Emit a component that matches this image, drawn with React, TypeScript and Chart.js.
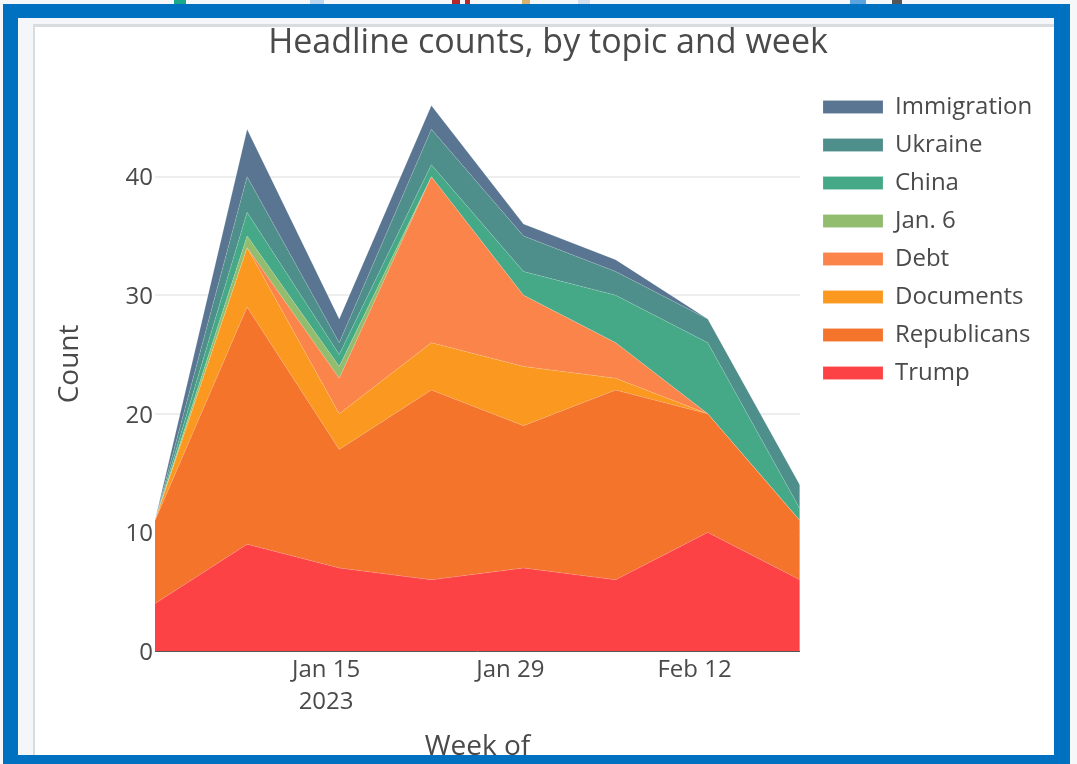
import React, { useEffect, useRef } from "react";
import { Chart, registerables } from "chart.js";

Chart.register(...registerables);

const FONT = '"Open Sans", sans-serif';
const TEXT = "#4a4a4a";

const weekStarts = ["2023-01-02", "2023-01-09", "2023-01-16", "2023-01-23", "2023-01-30", "2023-02-06", "2023-02-13", "2023-02-20"];
const tickDates = ["2023-01-15", "2023-01-29", "2023-02-12"];
const tickLabels = [["Jan 15", "2023"], ["Jan 29"], ["Feb 12"]];

const trump = [4, 9, 7, 6, 7, 6, 10, 6];
const republicans = [7, 20, 10, 16, 12, 16, 10, 5];
const documentsTopic = [0, 5, 3, 4, 5, 1, 0, 0];
const debt = [0, 0, 3, 14, 6, 3, 0, 0];
const janSix = [0, 1, 1, 0, 0, 0, 0, 0];
const china = [0, 2, 1, 1, 2, 4, 6, 1];
const ukraine = [0, 3, 1, 3, 3, 2, 2, 2];
const immigration = [0, 4, 2, 2, 1, 1, 0, 0];

const topics: [string, number[], string][] = [
  ["Trump", trump, "#fc4244"],
  ["Republicans", republicans, "#f4742b"],
  ["Documents", documentsTopic, "#fb981f"],
  ["Debt", debt, "#fb844b"],
  ["Jan. 6", janSix, "#93bd6e"],
  ["China", china, "#45a988"],
  ["Ukraine", ukraine, "#4f8f8b"],
  ["Immigration", immigration, "#5a7592"],
];

// Scraps of the application toolbar showing above the frame
const toolbarChips: [number, number, string][] = [
  [174, 12, "#1aa88a"], [310, 14, "#bcd6f0"], [452, 8, "#b3272d"], [465, 5, "#b3272d"],
  [522, 8, "#d9b36c"], [578, 12, "#d5e0ec"], [850, 16, "#5aa5e0"], [892, 10, "#555555"],
];

const LEGEND_GAP = 14;

// Moves the legend and title to their final spots once the plot area is settled
const placeBlocks = {
  id: "placeBlocks",
  afterLayout(chart: any) {
    chart.legend.left = 823 - LEGEND_GAP;
    chart.legend.top = 81;
    chart.titleBlock.left = 0;
    chart.titleBlock.right = 1096;
  },
};

export default function App() {
  const ref = useRef<HTMLCanvasElement>(null);

  useEffect(() => {
    document.body.style.margin = "0";
    const xs = weekStarts.map((d) => Date.parse(d));
    const tickXs = tickDates.map((d) => Date.parse(d));
    const chart = new Chart(ref.current!, {
      type: "line",
      plugins: [placeBlocks],
      data: {
        datasets: topics.map(([label, values, color], i) => ({
          label,
          data: values.map((y, j) => ({ x: xs[j], y })),
          backgroundColor: color,
          borderColor: "rgba(255,255,255,0.3)",
          borderWidth: 0.5,
          pointRadius: 0,
          tension: 0,
          fill: i === 0 ? "origin" : "-1",
        })),
      },
      options: {
        responsive: false,
        animation: false,
        events: [],
        layout: { padding: { left: 0, right: 44, top: 0, bottom: 0 } },
        plugins: {
          title: {
            display: true,
            text: "Headline counts, by topic and week",
            color: TEXT,
            font: { family: FONT, size: 34, weight: "normal" },
            padding: { top: 23, bottom: 13 },
          },
          tooltip: { enabled: false },
          legend: {
            position: "right",
            align: "start",
            reverse: true,
            labels: {
              boxWidth: 60,
              boxHeight: 13,
              padding: LEGEND_GAP,
              color: TEXT,
              font: { family: FONT, size: 24 },
            },
          },
        },
        scales: {
          x: {
            type: "linear",
            min: xs[0],
            max: xs[xs.length - 1],
            afterBuildTicks: (axis: any) => {
              axis.ticks = tickXs.map((value) => ({ value }));
            },
            afterFit: (axis: any) => {
              axis.height = 113;
            },
            grid: { display: false, drawTicks: false },
            border: { display: true, color: "#555555", width: 1 },
            ticks: {
              autoSkip: false,
              maxRotation: 0,
              padding: 4,
              color: TEXT,
              font: { family: FONT, size: 24, lineHeight: 1.3 },
              callback: (value: any) => tickLabels[tickXs.indexOf(value)] ?? "",
            },
            title: {
              display: true,
              text: "Week of",
              color: TEXT,
              font: { family: FONT, size: 28 },
              padding: { top: 0, bottom: 0 },
            },
          },
          y: {
            stacked: true,
            min: 0,
            max: 48.42,
            afterBuildTicks: (axis: any) => {
              axis.ticks = axis.ticks.filter((t: any) => t.value % 10 === 0);
            },
            afterFit: (axis: any) => {
              axis.width = 155;
            },
            grid: { color: "#eeeeee", lineWidth: 2, drawTicks: false },
            border: { display: false },
            ticks: {
              stepSize: 10,
              padding: 2,
              labelOffset: 2,
              color: TEXT,
              font: { family: FONT, size: 24 },
            },
            title: {
              display: true,
              text: "Count",
              color: TEXT,
              font: { family: FONT, size: 28 },
              padding: { top: 53, bottom: 0 },
            },
          },
        },
      },
    } as any);
    return () => chart.destroy();
  }, []);

  return (
    <div style={{ position: "fixed", left: 0, top: 0, width: 1077, height: 764, overflow: "hidden", background: "#f6f7f8" }}>
      {toolbarChips.map(([left, width, background]) => (
        <div key={left} style={{ position: "absolute", left, top: 0, width, height: 5, background }} />
      ))}
      <div style={{ position: "absolute", left: 18, top: 18, width: 1036, height: 737, background: "#f4f6f9" }} />
      <div style={{ position: "absolute", left: 33, top: 24, width: 1021, height: 731, background: "#d9dcdf" }} />
      <div style={{ position: "absolute", left: 35, top: 27, width: 1019, height: 728, background: "#ffffff" }} />
      <canvas ref={ref} width={1077} height={764} style={{ position: "absolute", left: 0, top: 0, display: "block" }} />
      <div
        style={{
          position: "absolute",
          left: 3,
          top: 4,
          width: 1067,
          height: 760,
          boxSizing: "border-box",
          borderStyle: "solid",
          borderColor: "#0070c0",
          borderWidth: "14px 16px 9px 15px",
          pointerEvents: "none",
        }}
      />
    </div>
  );
}
